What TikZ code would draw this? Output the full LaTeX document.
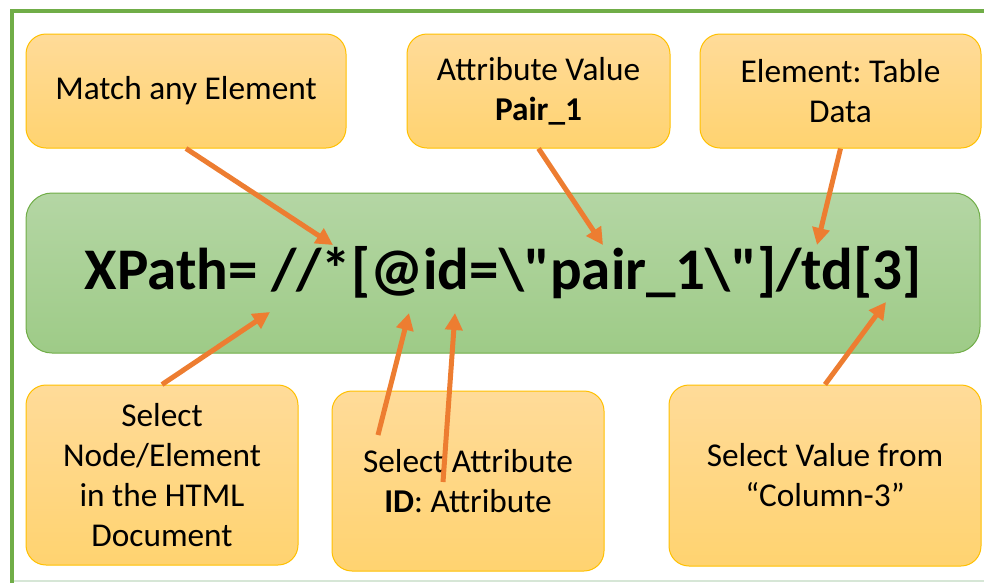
\documentclass[tikz,border=0pt]{standalone}
\usepackage{fontspec}
\setmainfont{Carlito}
% same face without the TeX quote mapping, for the literal XPath string
\newfontfamily\codeface{Carlito}[Ligatures=TeXOff]
\usetikzlibrary{arrows.meta}
\frenchspacing

\definecolor{framegreen}{RGB}{112,173,71}
\definecolor{boxtop}{RGB}{255,219,153}
\definecolor{boxbot}{RGB}{255,211,112}
\definecolor{boxline}{RGB}{255,192,0}
\definecolor{bartop}{RGB}{180,214,164}
\definecolor{barbot}{RGB}{158,203,135}
\definecolor{arroworange}{RGB}{237,125,49}
\definecolor{edgegrey}{RGB}{214,230,214}

\tikzset{
  note/.style={rectangle, rounded corners=20pt, draw=boxline, line width=1pt,
    top color=boxtop, bottom color=boxbot, align=center, inner sep=0pt,
    font=\fontsize{33.3}{40}\selectfont, text=black},
  bar/.style={rectangle, rounded corners=26pt, draw=framegreen, line width=1pt,
    top color=bartop, bottom color=barbot, inner sep=0pt,
    font=\codeface\fontsize{59}{70}\selectfont\bfseries, text=black},
  pointer/.style={draw=arroworange, line width=5pt,
    -{Triangle[length=17pt,width=17pt]}},
}

\begin{document}
\begin{tikzpicture}[x=1pt,y=-1pt]
\useasboundingbox (0,0) rectangle (984,582);
\clip (0,0) rectangle (984,582);

% outer frame
\draw[framegreen, line width=4pt] (12,11) -- (992,11);
\draw[framegreen, line width=4pt] (12,9) -- (12,590);
\draw[edgegrey, line width=2pt] (14,581) -- (992,581);

% top notes
\node[note, minimum width=320pt, minimum height=114pt] (m) at (186,91) {Match any Element};
\node[note, minimum width=263pt, minimum height=114pt] (av) at (538.5,91) {Attribute Value\\\textbf{Pair\_1}};
\node[note, minimum width=281pt, minimum height=114pt] (td) at (840.5,91) {Element: Table\\Data};

% expression bar
\node[bar, minimum width=954pt, minimum height=160pt] (xp) at (503,273)
  {XPath= //*[@id=\textbackslash"pair\_1\textbackslash"]/td[3]};

% bottom notes
\node[note, minimum width=272pt, minimum height=180pt] (sn) at (162,475) {Select\\Node/Element\\in the HTML\\Document};
\node[note, minimum width=272pt, minimum height=180pt] (sa) at (468,481) {Select Attribute\\\textbf{ID}: Attribute};
\node[note, minimum width=312pt, minimum height=181pt] (sv) at (825,475.5) {Select Value from\\“Column-3”};

% pointer tails inside the attribute note and tips on the expression
\coordinate (t3) at (378,435);
\coordinate (t4) at (443,482);
\coordinate (a1) at (333,245);
\coordinate (a2) at (270,312);
\coordinate (a3) at (409,313);
\coordinate (a4) at (455,313);
\coordinate (a5) at (603,245);
\coordinate (a6) at (817,245);
\coordinate (a7) at (886,302);

\draw[pointer] (m.south) -- (a1);
\draw[pointer] (sn.north) -- (a2);
\draw[pointer] (t3) -- (a3);
\draw[pointer] (t4) -- (a4);
\draw[pointer] (av.south) -- (a5);
\draw[pointer] (td.south) -- (a6);
\draw[pointer] (sv.north) -- (a7);
\end{tikzpicture}
\end{document}
